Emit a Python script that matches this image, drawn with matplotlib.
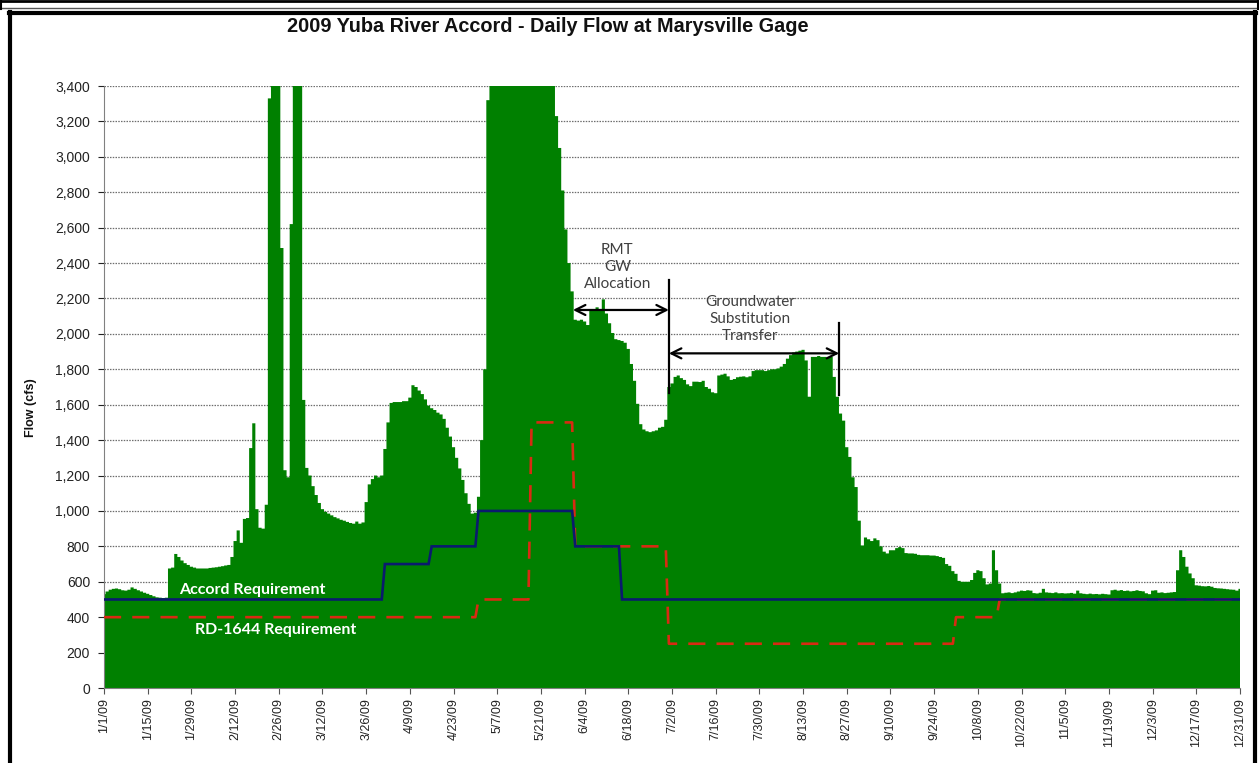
import matplotlib
matplotlib.use("Agg")
import matplotlib.pyplot as plt
import matplotlib.dates as mdates
import numpy as np
import pandas as pd
from matplotlib.lines import Line2D
from matplotlib.ticker import FuncFormatter, MultipleLocator

# ---------------- data (daily flow, cfs) ----------------
jan_flow = [530, 545, 555, 560, 562, 558, 552, 550, 555, 568, 560, 552, 545, 538, 532, 525,
            518, 512, 510, 508, 510, 675, 680, 757, 740, 720, 705, 695, 685, 680, 675]
feb_flow = [675, 675, 675, 678, 680, 682, 685, 688, 692, 695, 740, 830, 890, 820, 955, 960,
            1355, 1495, 1010, 905, 900, 1035, 3330, 4400, 5200, 4600, 2485, 1230]
mar_flow = [1190, 2620, 4300, 5000, 3900, 1627, 1243, 1200, 1140, 1090, 1045, 1010, 995, 985,
            975, 965, 958, 950, 945, 938, 932, 928, 940, 928, 935, 1050, 1150, 1180, 1200,
            1190, 1200]
apr_flow = [1350, 1500, 1610, 1615, 1615, 1615, 1620, 1620, 1640, 1710, 1700, 1680, 1660, 1630,
            1595, 1580, 1570, 1555, 1545, 1520, 1470, 1420, 1360, 1300, 1240, 1175, 1100, 1040,
            985, 990]
may_flow = [1080, 1400, 1800, 3320, 3800, 4200, 4800, 5500, 6000, 6500, 7000, 6800, 6200, 5800,
            5600, 5900, 6300, 6700, 6400, 5800, 5200, 4800, 4500, 4100, 3700, 3230, 3050, 2810,
            2590, 2400, 2240]
jun_flow = [2080, 2075, 2080, 2070, 2050, 2140, 2140, 2150, 2140, 2195, 2115, 2060, 2005, 1970,
            1965, 1960, 1950, 1915, 1830, 1735, 1605, 1490, 1460, 1450, 1445, 1450, 1455, 1470,
            1475, 1515]
jul_flow = [1700, 1720, 1757, 1765, 1750, 1740, 1715, 1705, 1730, 1730, 1728, 1735, 1700, 1690,
            1670, 1665, 1765, 1770, 1775, 1760, 1740, 1745, 1755, 1758, 1760, 1755, 1760, 1790,
            1795, 1795, 1795]
aug_flow = [1790, 1795, 1800, 1800, 1805, 1815, 1830, 1860, 1880, 1895, 1900, 1905, 1910, 1850,
            1645, 1870, 1870, 1875, 1870, 1870, 1865, 1870, 1757, 1645, 1550, 1510, 1360, 1305,
            1190, 1135, 945]
sep_flow = [805, 850, 840, 830, 845, 835, 800, 770, 760, 778, 778, 790, 796, 790, 762, 760, 760,
            758, 752, 750, 750, 750, 748, 748, 745, 740, 735, 700, 690, 660]
oct_flow = [645, 605, 600, 600, 600, 610, 650, 665, 660, 620, 585, 590, 778, 665, 590, 535, 538,
            540, 536, 540, 545, 550, 548, 552, 550, 536, 534, 538, 560, 540, 538]
nov_flow = [536, 540, 535, 536, 534, 535, 537, 533, 550, 535, 532, 530, 533, 530, 531, 529, 532,
            530, 528, 552, 555, 550, 553, 548, 550, 546, 548, 552, 548, 546]
dec_flow = [535, 530, 550, 552, 538, 540, 536, 538, 540, 542, 665, 778, 740, 685, 647, 620, 580,
            578, 575, 574, 576, 572, 565, 563, 562, 560, 558, 556, 555, 550, 560]

# requirement schedules (start date of each level, cfs)
accord_start = ["2009-01-01", "2009-04-01", "2009-04-16", "2009-05-01", "2009-06-01", "2009-06-16"]
accord_cfs = [500, 700, 800, 1000, 800, 500]
rd1644_start = ["2009-01-01", "2009-05-01", "2009-05-18", "2009-06-01", "2009-07-01",
                "2009-10-01", "2009-10-15"]
rd1644_cfs = [400, 500, 1500, 800, 250, 400, 500]

tick_labels = ["1/1/09", "1/15/09", "1/29/09", "2/12/09", "2/26/09", "3/12/09", "3/26/09",
               "4/9/09", "4/23/09", "5/7/09", "5/21/09", "6/4/09", "6/18/09", "7/2/09",
               "7/16/09", "7/30/09", "8/13/09", "8/27/09", "9/10/09", "9/24/09", "10/8/09",
               "10/22/09", "11/5/09", "11/19/09", "12/3/09", "12/17/09", "12/31/09"]

# ---------------- build series ----------------
flow = np.array(jan_flow + feb_flow + mar_flow + apr_flow + may_flow + jun_flow +
                jul_flow + aug_flow + sep_flow + oct_flow + nov_flow + dec_flow, dtype=float)
days = pd.date_range("2009-01-01", "2009-12-31", freq="D")
accord = pd.Series(accord_cfs, index=pd.to_datetime(accord_start)).reindex(days, method="ffill")
rd1644 = pd.Series(rd1644_cfs, index=pd.to_datetime(rd1644_start)).reindex(days, method="ffill")
tick_dates = pd.to_datetime(["2009/" + t[:-3] for t in tick_labels])

# ---------------- figure ----------------
plt.rcParams["font.family"] = ["Liberation Sans", "DejaVu Sans"]
fig = plt.figure(figsize=(12.59, 7.63), dpi=100)
ax = fig.add_axes([104 / 1259, 1 - 688 / 763, (1240 - 104) / 1259, (688 - 86) / 763])

green = "#008000"
ax.fill_between(days, flow, 0, step="mid", color=green, linewidth=0, zorder=2)
ax.plot(days, accord.values, color="#0a1a6e", lw=1.9, zorder=4, solid_joinstyle="miter")
ax.plot(days, rd1644.values, color="#d82a12", lw=1.9, zorder=3, dashes=(6.5, 4.2))

ax.set_xlim(days[0], days[-1])
ax.set_ylim(0, 3400)
ax.yaxis.set_major_locator(MultipleLocator(200))
ax.yaxis.set_major_formatter(FuncFormatter(lambda v, p: f"{int(v):,}"))
ax.set_xticks(tick_dates)
ax.set_xticklabels(tick_labels, rotation=90, fontsize=9, color="#222222")
ax.tick_params(axis="y", labelsize=10, colors="#222222", length=4, width=0.8, direction="out",
               pad=6)
ax.tick_params(axis="x", length=4, width=0.8, direction="out", colors="#555555", labelcolor="#222222")
ax.grid(axis="y", color="#6e6e6e", lw=0.9, linestyle=(0, (1.2, 1.0)), zorder=1)
ax.set_axisbelow(True)
for s in ["top", "right"]:
    ax.spines[s].set_visible(False)
ax.spines["left"].set_color("#808080")
ax.spines["bottom"].set_color("#808080")
fig.text(31 / 1259, 1 - 408 / 763, "Flow (cfs)", rotation=90, ha="center", va="center",
         fontsize=9, fontweight="bold", color="#111111")

fig.text(548 / 1259, 1 - 27 / 763, "2009 Yuba River Accord - Daily Flow at Marysville Gage",
         ha="center", va="center", fontsize=14.3, fontweight="bold", color="#111111")

# series labels
lbl_font = ["Lato", "DejaVu Sans"]
ax.text(pd.Timestamp("2009-01-25"), 553, "Accord Requirement", color="white", fontsize=11.5,
        fontweight="bold", family=lbl_font, va="center", ha="left", zorder=5)
ax.text(pd.Timestamp("2009-01-30"), 328, "RD-1644 Requirement", color="white", fontsize=11.5,
        fontweight="bold", family=lbl_font, va="center", ha="left", zorder=5)

# annotations
ann_col = "#404040"
ax.text(pd.Timestamp("2009-06-14 12:00"), 2378, "RMT\nGW\nAllocation", ha="center", va="center",
        fontsize=11, family=lbl_font, color=ann_col, linespacing=1.25, zorder=6)
ax.text(pd.Timestamp("2009-07-27"), 2084, "Groundwater\nSubstitution\nTransfer", ha="center",
        va="center", fontsize=11, family=lbl_font, color=ann_col, linespacing=1.25, zorder=6)
arrow = dict(arrowstyle="<->", color="black", lw=1.6, mutation_scale=18, shrinkA=0, shrinkB=0)
ax.annotate("", xy=(pd.Timestamp("2009-05-31 06:00"), 2135),
            xytext=(pd.Timestamp("2009-07-01"), 2135), arrowprops=arrow, zorder=6)
ax.annotate("", xy=(pd.Timestamp("2009-07-01"), 1890),
            xytext=(pd.Timestamp("2009-08-24 14:00"), 1890), arrowprops=arrow, zorder=6)
ax.plot([pd.Timestamp("2009-07-01")] * 2, [1665, 2305], color="black", lw=1.6, zorder=6)
ax.plot([pd.Timestamp("2009-08-24 14:00")] * 2, [1655, 2062], color="black", lw=1.6, zorder=6)

# outer frames
def hline(y, x0, x1, lw, c="black"):
    fig.add_artist(Line2D([x0 / 1259, x1 / 1259], [1 - y / 763, 1 - y / 763], lw=lw, color=c))

def vline(x, y0, y1, lw, c="black"):
    fig.add_artist(Line2D([x / 1259, x / 1259], [1 - y0 / 763, 1 - y1 / 763], lw=lw, color=c))

hline(1, 0, 1259, 2.0)
hline(8, 0, 1259, 1.0, "#555555")
vline(1, 0, 9, 1.5)
vline(1257.5, 0, 9, 1.5)
hline(13, 9, 1256, 3.0)
vline(10, 12, 763, 3.0)
vline(1255, 12, 763, 3.0)

fig.savefig("out.png", dpi=100)
